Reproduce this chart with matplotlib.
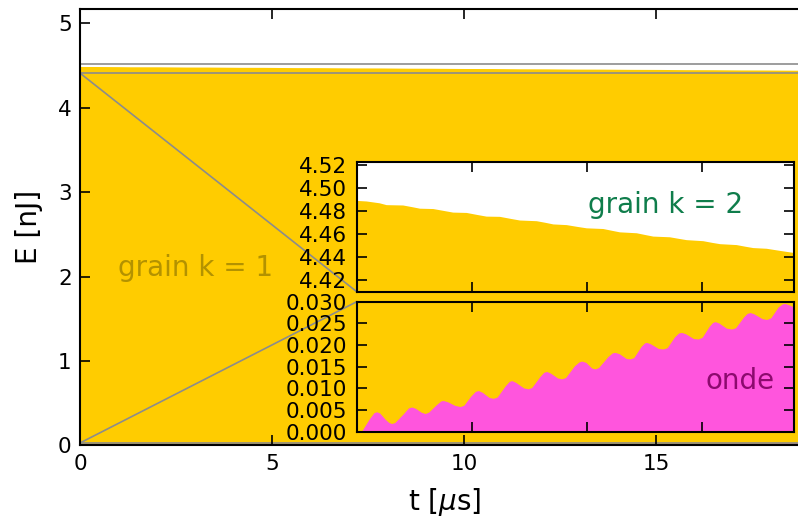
"""
Energie en fonction du temps : grains k = 1, k = 2 et onde,
avec deux encarts (zoom haut et zoom bas).
"""

import matplotlib
matplotlib.use('Agg')
import matplotlib.pyplot as plt
from matplotlib.patches import Rectangle, ConnectionPatch

plt.rcParams['font.family'] = ['DejaVu Sans']
plt.rcParams['mathtext.fontset'] = 'dejavusans'

# energie totale (sommet de la zone jaune), nJ
t_tot = [0.0, 0.43, 1.0, 1.30, 2.02, 2.45, 2.75, 3.33, 3.8, 4.19, 4.78, 5.25,
         5.64, 6.22, 6.7, 7.09, 7.82, 8.2, 8.54, 9.12, 9.6, 9.99, 10.71, 11.1,
         11.43, 12.16, 12.55, 12.88, 13.6, 14.0, 14.33, 15.05, 15.45, 15.78,
         16.5, 16.9, 17.22, 17.8, 18.4, 19.0]
E_tot = [4.4891, 4.4886, 4.4870, 4.4854, 4.4851, 4.4835, 4.4823, 4.4820,
         4.4803, 4.4789, 4.4786, 4.4768, 4.4754, 4.4752, 4.4734, 4.4720,
         4.4714, 4.4700, 4.4686, 4.4680, 4.4664, 4.4652, 4.4646, 4.4630,
         4.4617, 4.4609, 4.4593, 4.4580, 4.4574, 4.4560, 4.4549, 4.4540,
         4.4525, 4.4514, 4.4506, 4.4491, 4.4480, 4.4474, 4.4455, 4.4437]

# energie de l'onde, nJ
t_onde = [0.2, 0.55, 0.75, 0.87, 1.0, 1.25, 1.40, 1.52, 1.65, 2.0, 2.25, 2.39,
          2.55, 2.80, 2.97, 3.12, 3.45, 3.65, 3.76, 3.95, 4.25, 4.49, 4.65,
          4.95, 5.15, 5.28, 5.45, 5.75, 5.93, 6.1, 6.45, 6.62, 6.73, 6.9, 7.25,
          7.45, 7.6, 7.95, 8.12, 8.25, 8.42, 8.72, 8.90, 9.07, 9.45, 9.65,
          9.77, 9.95, 10.2, 10.35, 10.5, 10.9, 11.1, 11.22, 11.4, 11.7, 11.87,
          12.03, 12.35, 12.5, 12.59, 12.75, 13.1, 13.31, 13.48, 13.8, 13.98,
          14.11, 14.28, 14.62, 14.83, 15.0, 15.3, 15.45, 15.56, 15.72, 16.05,
          16.28, 16.45, 16.8, 16.95, 17.08, 17.25, 17.6, 17.8, 17.98, 18.3,
          18.48, 18.60, 18.8, 19.0]
E_onde = [0.0, 0.0030, 0.0044, 0.0046, 0.0043, 0.0028, 0.0021, 0.0019, 0.0021,
          0.0040, 0.0055, 0.0057, 0.0054, 0.0045, 0.0042, 0.0045, 0.0062,
          0.0071, 0.0072, 0.0069, 0.0061, 0.0058, 0.0061, 0.0082, 0.0093,
          0.0095, 0.0091, 0.0079, 0.0077, 0.0080, 0.0106, 0.0116, 0.0118,
          0.0114, 0.0101, 0.0099, 0.0102, 0.0127, 0.0137, 0.0139, 0.0135,
          0.0124, 0.0122, 0.0125, 0.0152, 0.0161, 0.0163, 0.0160, 0.0147,
          0.0145, 0.0148, 0.0173, 0.0182, 0.0183, 0.0180, 0.0169, 0.0168,
          0.0171, 0.0197, 0.0205, 0.0206, 0.0203, 0.0192, 0.0191, 0.0194,
          0.0219, 0.0228, 0.0229, 0.0226, 0.0215, 0.0214, 0.0218, 0.0243,
          0.0252, 0.0254, 0.0251, 0.0239, 0.0237, 0.0240, 0.0265, 0.0273,
          0.0275, 0.0272, 0.0261, 0.0259, 0.0263, 0.0288, 0.0295, 0.0296,
          0.0292, 0.0287]

GOLD = '#FFCC00'
PINK = '#FF55DD'
GRIS = '0.55'


def style_axes(ax, xticks, yticks, fs=15.5, pad=7):
    ax.set_xticks(xticks)
    ax.set_yticks(yticks)
    ax.tick_params(direction='in', length=7.5, width=1.2, top=True, right=True,
                   labelsize=fs, pad=pad)
    for s in ax.spines.values():
        s.set_linewidth(1.5)


def draw_fills(ax):
    ax.fill_between(t_tot, 0, E_tot, color=GOLD, lw=0)
    ax.fill_between(t_onde, 0, E_onde, color=PINK, lw=0)


fig = plt.figure(figsize=(7.98, 5.22), dpi=100)

# axes principal
ax = fig.add_axes([0.1003, 0.1466, 0.9143, 0.8362])
draw_fills(ax)
ax.set_xlim(0, 19)
ax.set_ylim(0, 5.17)
style_axes(ax, [0, 5, 10, 15], [0, 1, 2, 3, 4, 5], pad=6)
ax.set_xlabel(r't [$\mu$s]', fontsize=20, labelpad=9)
ax.set_ylabel('E [nJ]', fontsize=20, labelpad=11)
ax.text(1.0, 2.1, 'grain k = 1', color='#B39200', fontsize=20,
        ha='left', va='center')

# zones zoomees
ax.add_patch(Rectangle((0, 4.41), 19, 0.113, fill=False, ec=GRIS, lw=1.2))
ax.add_patch(Rectangle((0, 0.0), 19, 0.03, fill=False, ec=GRIS, lw=1.2))

# encart haut : grain k = 2
ax_up = fig.add_axes([0.447, 0.4412, 0.5484, 0.2485])
ax_up.set_facecolor('white')
draw_fills(ax_up)
ax_up.set_xlim(0, 19)
ax_up.set_ylim(4.41, 4.523)
style_axes(ax_up, [5, 10, 15], [4.42, 4.44, 4.46, 4.48, 4.50, 4.52])
ax_up.set_yticklabels(['4.42', '4.44', '4.46', '4.48', '4.50', '4.52'])
ax_up.tick_params(labelbottom=False)
ax_up.text(0.529, 0.668, 'grain k = 2', color='#0F7D4B', fontsize=20,
           ha='left', va='center', transform=ax_up.transAxes)

# encart bas : onde
ax_lo = fig.add_axes([0.447, 0.173, 0.5484, 0.249])
draw_fills(ax_lo)
ax_lo.set_xlim(0, 19)
ax_lo.set_ylim(0, 0.03)
style_axes(ax_lo, [5, 10, 15], [0.0, 0.005, 0.01, 0.015, 0.02, 0.025, 0.03])
ax_lo.set_yticklabels(['0.000', '0.005', '0.010', '0.015', '0.020', '0.025', '0.030'])
ax_lo.tick_params(labelbottom=False)
ax_lo.text(0.796, 0.39, 'onde', color='#8C0A6E', fontsize=20,
           ha='left', va='center', transform=ax_lo.transAxes)

# lignes de liaison
for xy_main, ax_in, xy_in in [((0, 4.41), ax_up, (0, 0)), ((0, 0.03), ax_lo, (0, 1))]:
    con = ConnectionPatch(xyA=xy_main, coordsA=ax.transData,
                          xyB=xy_in, coordsB=ax_in.transAxes,
                          color=GRIS, lw=1.2)
    ax.add_artist(con)

fig.savefig('out.png', dpi=100)
